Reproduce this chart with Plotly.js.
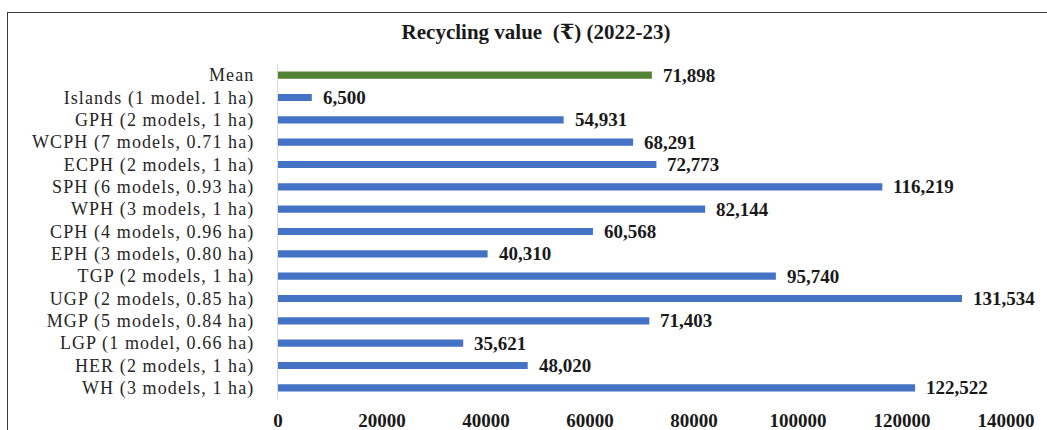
<!DOCTYPE html>
<html>
<head>
<meta charset="utf-8">
<script src="https://cdn.plot.ly/plotly-3.0.1.min.js"></script>
<style>
  html, body { margin: 0; padding: 0; background: #ffffff; overflow: hidden; }
  #wrap { position: relative; width: 1047px; height: 430px; }
  #frame { position: absolute; left: 7px; top: 12px; width: 2000px; height: 2000px;
           border-left: 1px solid #3a3a3a; border-top: 1px solid #3a3a3a; pointer-events: none; z-index: 5; }
  #chart { position: absolute; left: 0; top: 0; width: 1047px; height: 430px; }
  .ytick text { letter-spacing: 1.1px; }
</style>
</head>
<body>
<div id="wrap">
  <div id="chart"></div>
  <div id="frame"></div>
</div>
<script>
// Categories listed bottom to top
const categories = [
  "WH (3 models, 1 ha)",
  "HER (2 models, 1 ha)",
  "LGP (1 model, 0.66 ha)",
  "MGP (5 models, 0.84 ha)",
  "UGP (2 models, 0.85 ha)",
  "TGP (2 models, 1 ha)",
  "EPH (3 models, 0.80 ha)",
  "CPH (4 models, 0.96 ha)",
  "WPH (3 models, 1 ha)",
  "SPH (6 models, 0.93 ha)",
  "ECPH (2 models, 1 ha)",
  "WCPH (7 models, 0.71 ha)",
  "GPH (2 models, 1 ha)",
  "Islands (1 model. 1 ha)",
  "Mean"
];
const values = [122522, 48020, 35621, 71403, 131534, 95740, 40310, 60568, 82144, 116219, 72773, 68291, 54931, 6500, 71898];
const xTickVals = [0, 20000, 40000, 60000, 80000, 100000, 120000, 140000];
const xTickText = ["0", "20000", "40000", "60000", "80000", "100000", "120000", "140000"];
const titleText = "Recycling value  (₹) (2022-23)";

const barColors = categories.map(c => c === "Mean" ? "#548235" : "#4472C4");
const fmt = v => v.toLocaleString("en-US");

const serif = "Liberation Serif, Times New Roman, DejaVu Serif, serif";

const trace = {
  type: "bar",
  orientation: "h",
  y: categories,
  x: values,
  width: 0.32,
  marker: { color: barColors },
  hoverinfo: "none"
};

const annotations = values.map((v, i) => ({
  x: v, y: categories[i], xref: "x", yref: "y",
  text: "<b>" + fmt(v) + "</b>",
  showarrow: false, xanchor: "left", yanchor: "middle", xshift: 9,
  font: { family: serif, size: 19, color: "#1a1a1a" }
}));

const layout = {
  width: 1047, height: 430,
  margin: { l: 278, r: 41, t: 64, b: 31 },
  paper_bgcolor: "#ffffff", plot_bgcolor: "#ffffff",
  showlegend: false,
  title: {
    text: "<b>" + titleText + "</b>",
    xref: "container", x: 0.512, xanchor: "center",
    yref: "container", y: 0.926, yanchor: "middle",
    font: { family: serif, size: 21, color: "#1a1a1a" }
  },
  xaxis: {
    range: [0, 140000],
    tickvals: xTickVals, ticktext: xTickText,
    showgrid: false, zeroline: false, showline: false,
    tickfont: { family: serif, size: 19, color: "#1a1a1a", weight: "bold" },
    ticks: "", ticklabelstandoff: 8,
    fixedrange: true
  },
  yaxis: {
    type: "category",
    categoryorder: "array", categoryarray: categories,
    range: [-0.5, categories.length - 0.5],
    showgrid: false, zeroline: false,
    showline: true, linecolor: "#d9d9d9", linewidth: 1,
    ticks: "", ticklabelstandoff: 19,
    tickfont: { family: serif, size: 18, color: "#262626" },
    fixedrange: true
  },
  annotations: annotations
};

Plotly.newPlot("chart", [trace], layout, { staticPlot: true, displayModeBar: false });
</script>
</body>
</html>
